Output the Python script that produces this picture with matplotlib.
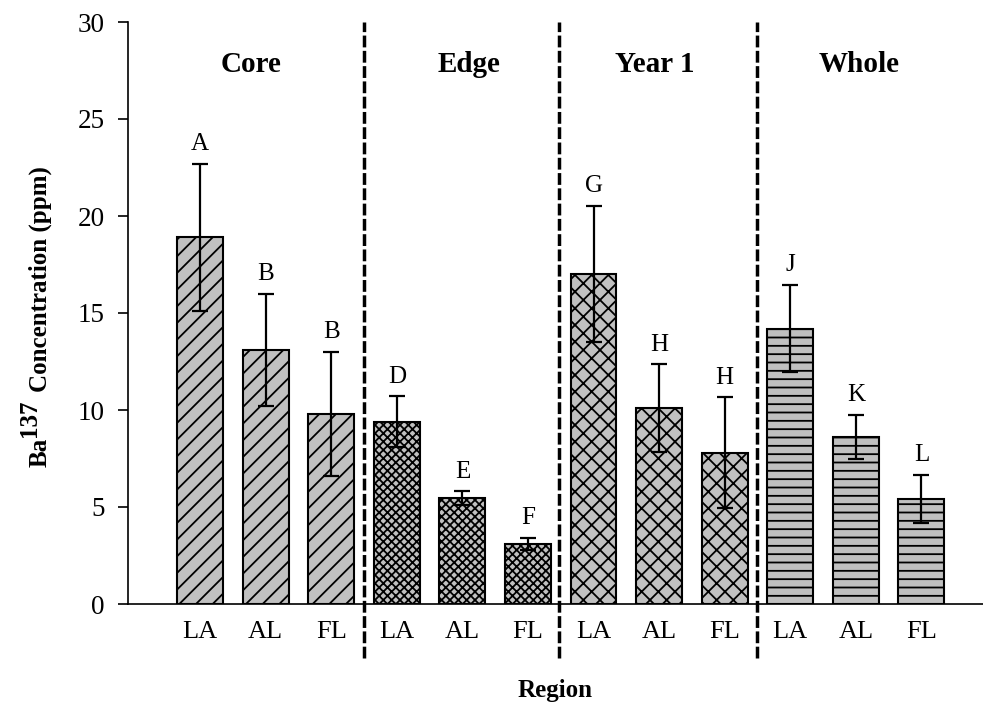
import matplotlib.pyplot as plt
import numpy as np

plt.rcParams['font.family'] = ['Liberation Serif', 'DejaVu Serif']
plt.rcParams['hatch.linewidth'] = 1.3

# datos
groups = ["Core", "Edge", "Year 1", "Whole"]
sites = ["LA", "AL", "FL"]
core = [18.9, 13.1, 9.8]
edge = [9.4, 5.45, 3.1]
year1 = [17.0, 10.1, 7.8]
whole = [14.2, 8.6, 5.4]
core_err = [3.8, 2.9, 3.2]
edge_err = [1.3, 0.35, 0.3]
year1_err = [3.5, 2.25, 2.85]
whole_err = [2.25, 1.15, 1.25]
letters = ["A", "B", "B", "D", "E", "F", "G", "H", "H", "J", "K", "L"]
hatches = ["//", "xxxx", "xx", "--"]

values = [core, edge, year1, whole]
errors = [core_err, edge_err, year1_err, whole_err]

W, H = 983, 706
fig = plt.figure(figsize=(W / 100, H / 100), dpi=100)
ax = fig.add_axes([128 / W, 1 - 604 / H, 1 - 128 / W, (604 - 22) / H])

for g, (vals, errs, h) in enumerate(zip(values, errors, hatches)):
    pos = np.arange(3) + 3 * g
    ax.bar(pos, vals, width=0.70, color='#c0c0c0', edgecolor='black',
           linewidth=1.5, hatch=h, zorder=2)
    ax.errorbar(pos, vals, yerr=errs, fmt='none', ecolor='black',
                elinewidth=1.6, capsize=6, capthick=1.6, zorder=3)
    for p, v, e, lab in zip(pos, vals, errs, letters[3 * g:3 * g + 3]):
        ax.annotate(lab, (p, v + e), xytext=(0, 10), textcoords='offset points',
                    ha='center', va='baseline', fontsize=18)

# separadores entre regiones
for xs in [2.5, 5.47, 8.5]:
    ax.axvline(xs, ymin=-0.093, ymax=1.0, color='black', lw=2.5,
               dashes=(3.4, 1.0), clip_on=False, zorder=4)

# titulos de grupo
for gx, name in zip([0.78, 4.1, 6.93, 10.05], groups):
    ax.text(gx, 27.42, name, ha='center', va='baseline', fontsize=21,
            fontweight='bold')

ax.set_xlim(-1.1, 11.94)
ax.set_ylim(0, 30)
ax.set_yticks([0, 5, 10, 15, 20, 25, 30])
ax.set_xticks(np.arange(12))
ax.set_xticklabels(sites * 4)
ax.tick_params(axis='y', labelsize=19.5, length=7, width=1.2, direction='out', pad=10)
ax.tick_params(axis='x', labelsize=19, length=0, pad=12)
for s in ['top', 'right']:
    ax.spines[s].set_visible(False)
ax.spines['left'].set_linewidth(1.2)
ax.spines['bottom'].set_linewidth(1.2)

# etiqueta del eje y (Ba con superindice grande)
kw = dict(rotation=90, rotation_mode='anchor', ha='left', va='baseline',
          fontsize=18, fontweight='bold')
fig.text(47 / W, 1 - 467 / H, "Ba", **kw)
fig.text(36 / W, 1 - 437 / H, "137", **kw)
fig.text(47 / W, 1 - 392 / H, "Concentration (ppm)", **kw)

fig.text(555 / W, 1 - 697 / H, "Region", ha='center', va='baseline',
         fontsize=18, fontweight='bold')

fig.savefig("out.png", dpi=100)
